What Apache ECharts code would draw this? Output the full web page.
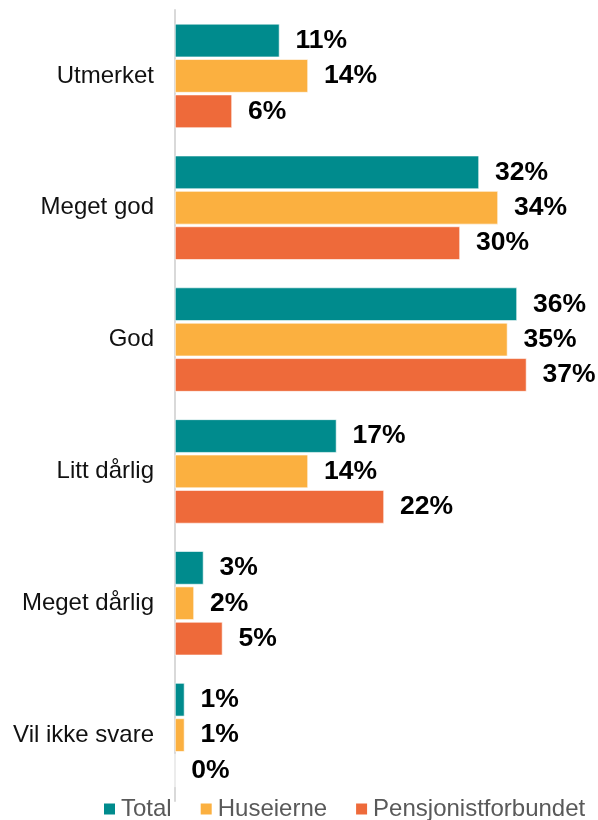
<!DOCTYPE html>
<html>
<head>
<meta charset="utf-8">
<script src="https://cdn.jsdelivr.net/npm/echarts@6/dist/echarts.min.js"></script>
<style>
  html, body { margin: 0; padding: 0; background: #fff; }
  #chart { width: 598px; height: 820px; }
</style>
</head>
<body>
<div id="chart"></div>
<script>
// Answer categories, top to bottom
const categories = ['Utmerket', 'Meget god', 'God', 'Litt dårlig', 'Meget dårlig', 'Vil ikke svare'];

// Share of respondents (%) per group
const totalValues = [11, 32, 36, 17, 3, 1];
const huseierneValues = [14, 34, 35, 14, 2, 1];
const pensjonistValues = [6, 30, 37, 22, 5, 0];

const seriesNames = ['Total', 'Huseierne', 'Pensjonistforbundet'];
const seriesColors = ['#008B8D', '#FBB040', '#EE6A3A'];

const FONT = 'Arial, "Liberation Sans", sans-serif';

function barSeries(name, data, color) {
  return {
    name: name,
    type: 'bar',
    data: data,
    barGap: '6%',
    barCategoryGap: '21%',
    itemStyle: { color: color, borderColor: '#ffffff', borderWidth: 0.6 },
    label: {
      show: true,
      position: 'right',
      distance: 16,
      formatter: p => p.value + '%',
      color: '#000',
      fontFamily: FONT,
      fontWeight: 'bold',
      fontSize: 26.5
    }
  };
}

const chart = echarts.init(document.getElementById('chart'), null, { renderer: 'canvas' });
chart.setOption({
  animation: false,
  backgroundColor: '#ffffff',
  grid: { left: 175, right: 43, top: 10, bottom: 19, containLabel: false },
  legend: {
    top: 792,
    left: 97,
    itemWidth: 13,
    itemHeight: 13,
    itemGap: 27,
    icon: 'rect',
    textStyle: { color: '#595959', fontFamily: FONT, fontSize: 24 },
    data: seriesNames
  },
  xAxis: {
    type: 'value',
    min: 0,
    max: 40,
    show: false
  },
  yAxis: {
    type: 'category',
    data: categories,
    inverse: true,
    axisLine: { show: true, lineStyle: { color: '#d9d9d9', width: 2 } },
    axisTick: { show: false },
    axisLabel: {
      margin: 21,
      color: '#111',
      fontFamily: FONT,
      fontSize: 24
    }
  },
  series: [
    barSeries(seriesNames[0], totalValues, seriesColors[0]),
    barSeries(seriesNames[1], huseierneValues, seriesColors[1]),
    barSeries(seriesNames[2], pensjonistValues, seriesColors[2])
  ]
});
</script>
</body>
</html>
